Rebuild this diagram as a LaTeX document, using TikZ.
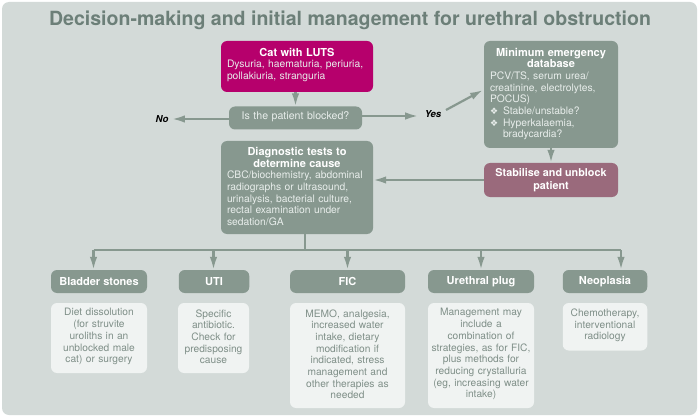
\documentclass[tikz,border=0pt]{standalone}
\usepackage{xcolor}
\usepackage{fontspec}
\setmainfont{TeX Gyre Heros}
\newfontfamily\dingfont{DejaVu Sans}
\usepackage{tikz}
\usetikzlibrary{arrows.meta}
\definecolor{panelbg}{HTML}{D3DAD8}
\definecolor{sage}{HTML}{87988F}
\definecolor{sagetext}{HTML}{7F8F88}
\definecolor{headtext}{HTML}{6C7F78}
\definecolor{bodylight}{HTML}{E8EDEB}
\definecolor{magentabox}{HTML}{B6006C}
\definecolor{mauvebox}{HTML}{9A6A7C}
\definecolor{paper}{HTML}{F0F3F2}
\newcommand{\bodysize}{\fontsize{10.3}{11.7}\selectfont}
\newcommand{\notesize}{\fontsize{10.2}{11.7}\selectfont}
\newcommand{\headline}[1]{\makebox[\hsize][c]{\fontsize{11}{11.7}\selectfont\bfseries\color{white}#1}\\}
\newcommand{\dingmark}{\makebox[13pt][l]{\dingfont\fontsize{9}{8}\selectfont ❖}}
\tikzset{
  boxbase/.style={rounded corners=6pt, inner sep=0pt, align=center},
  sagebox/.style={boxbase, fill=sage, text=bodylight, font=\bodysize},
  causebox/.style={boxbase, fill=sage, text=white, font=\fontsize{11}{12}\selectfont\bfseries, minimum height=23pt},
  notebox/.style={boxbase, fill=paper, text=sagetext, font=\notesize, execute at end node=\par\vspace*{2.5pt}},
  flow/.style={draw=sage, line width=2.2pt, arrows = {-Latex[width=7.5pt, length=13pt]}},
  bus/.style={draw=sage, line width=2.6pt}
}
\begin{document}
\begin{tikzpicture}[x=1pt,y=-1pt]
\useasboundingbox (0,0) rectangle (699,417);
\fill[panelbg, rounded corners=7pt] (2,2) rectangle (697,415);
\node[text=headtext, font=\fontsize{19.55}{24}\selectfont\bfseries] (title) at (350,20) {Decision-making and initial management for urethral obstruction};
\node[sagebox, fill=magentabox, minimum width=152pt, minimum height=51pt, text width=140pt, align=left] (cat) at (297,66.5) {\headline{Cat with LUTS}Dysuria, haematuria, periuria,\\ pollakiuria, stranguria\par\vspace*{3pt}};
\node[sagebox, font=\fontsize{10.6}{12}\selectfont, minimum width=133pt, minimum height=23pt, text width=130pt] (blocked) at (295.5,118) {Is the patient blocked?\par\vspace*{3pt}};
\node[sagebox, minimum width=152pt, minimum height=93pt, text width=140pt, align=left] (diag) at (297,187.5) {\headline{Diagnostic tests to}\headline{determine cause}CBC/biochemistry, abdominal\\ radiographs or ultrasound,\\ urinalysis, bacterial culture,\\ rectal examination under\\ sedation/GA\par\vspace*{2pt}};
\node[sagebox, minimum width=134pt, minimum height=107pt, text width=122pt, align=left] (database) at (551,94.5) {\headline{Minimum emergency}\headline{database}PCV/TS, serum urea/\\ creatinine, electrolytes,\\ POCUS)\\ \dingmark Stable/unstable?\\ \dingmark Hyperkalaemia,\\ \hspace*{13pt}bradycardia?\par\vspace*{1pt}};
\node[sagebox, fill=mauvebox, text=white, font=\fontsize{10.8}{12.8}\selectfont\bfseries, minimum width=134pt, minimum height=34pt] (stabilise) at (551,180) {Stabilise and unblock\\ patient};
\node[font=\fontsize{9.6}{12}\selectfont\bfseries\itshape] (no) at (162,119) {No};
\node[font=\fontsize{9.6}{12}\selectfont\bfseries\itshape] (yes) at (433,114.5) {Yes};
\node[causebox, minimum width=96pt] (stones) at (99,281.5) {Bladder stones};
\node[causebox, minimum width=70.5pt] (uti) at (214,281.5) {UTI};
\node[causebox, minimum width=115pt] (fic) at (347.5,281.5) {FIC};
\node[causebox, minimum width=106pt] (plug) at (481,281.5) {Urethral plug};
\node[causebox, minimum width=84.5pt] (neoplasia) at (605,281.5) {Neoplasia};
\node[notebox, minimum width=96pt, minimum height=70pt, text width=92pt] (stonesnote) at (99,338) {Diet dissolution\\ (for struvite\\ uroliths in an\\ unblocked male\\ cat) or surgery};
\node[notebox, minimum width=71pt, minimum height=70pt, text width=67pt] (utinote) at (213.5,338) {Specific\\ antibiotic.\\ Check for\\ predisposing\\ cause};
\node[notebox, minimum width=115pt, minimum height=105pt, text width=111pt] (ficnote) at (347.5,355.5) {MEMO, analgesia,\\ increased water\\ intake, dietary\\ modification if\\ indicated, stress\\ management and\\ other therapies as\\ needed};
\node[notebox, minimum width=106pt, minimum height=105pt, text width=102pt] (plugnote) at (481,355.5) {Management may\\ include a\\ combination of\\ strategies, as for FIC,\\ plus methods for\\ reducing crystalluria\\ (eg, increasing water\\ intake)};
\node[notebox, minimum width=84.5pt, minimum height=47.5pt, text width=82pt] (neoplasianote) at (605,326.75) {Chemotherapy,\\ interventional\\ radiology};
\coordinate (trunk) at (305,250);
\coordinate (busstones) at (93.5,250);
\coordinate (busuti) at (213.5,250);
\coordinate (busfic) at (347.5,250);
\coordinate (busplug) at (481,250);
\coordinate (busneoplasia) at (621,250);
\coordinate (yesend) at (483,90);
\coordinate (yesstart) at (446,110);
\draw[flow] (cat.south -| blocked.north) -- (blocked.north);
\draw[flow] (blocked.west |- no) -- (no.east);
\draw[flow] (blocked.east |- yes) ++(0,1.5) -- ++(56,0);
\draw[flow] (yesstart) -- (yesend);
\draw[flow] (database.south) -- (stabilise.north);
\draw[flow] (stabilise.west) -- (stabilise.west -| diag.east);
\draw[bus] (trunk |- diag.south) -- (trunk);
\draw[bus] (busstones) -- (busneoplasia);
\foreach \busname/\boxname in {busstones/stones, busuti/uti, busfic/fic, busplug/plug, busneoplasia/neoplasia}
  \draw[flow] (\busname) -- (\busname |- \boxname.north);
\end{tikzpicture}
\end{document}
